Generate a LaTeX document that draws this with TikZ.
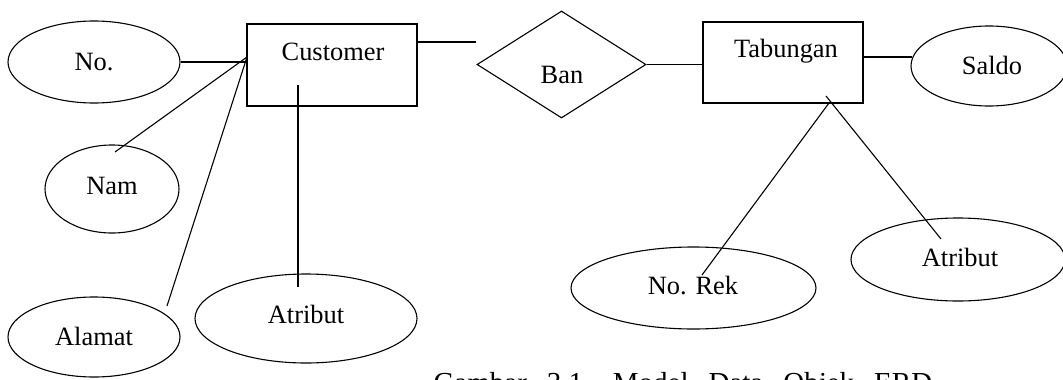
\documentclass[tikz,border=0pt]{standalone}
\usepackage{fontspec}
\setmainfont{Liberation Serif}
\usetikzlibrary{shapes.geometric}
\begin{document}
\begin{tikzpicture}[x=1pt, y=-1pt, line width=1.1pt,
  attr/.style={draw, ellipse, inner sep=0pt},
  ent/.style={draw, rectangle, inner sep=0pt},
  rel/.style={draw, diamond, inner sep=0pt},
  lbl/.style={anchor=base, inner sep=0pt, font=\fontsize{26.4}{30}\selectfont},
  figcaption/.style={anchor=base west, inner sep=0pt, font=\fontsize{29}{34}\selectfont},
  link/.style={line width=1.1pt}]
\useasboundingbox (0,0) rectangle (1063,380);
\clip (0,0) rectangle (1063,380);

% entities and relationship
\node[ent, minimum width=170pt, minimum height=82pt] (cust) at (332,65) {};
\node[ent, minimum width=160pt, minimum height=81pt] (tab) at (783,62.5) {};
\node[rel, minimum width=169pt, minimum height=107pt] (ban) at (561.5,64.5) {};

% attributes
\node[attr, minimum width=172pt, minimum height=82pt] (no) at (94,62) {};
\node[attr, minimum width=134pt, minimum height=88pt] (nam) at (112,189) {};
\node[attr, minimum width=172pt, minimum height=80pt] (alamat) at (94,337) {};
\node[attr, minimum width=222pt, minimum height=89pt] (atr1) at (306,318.5) {};
\node[attr, minimum width=156pt, minimum height=80pt] (saldo) at (989,66) {};
\node[attr, minimum width=245pt, minimum height=82pt] (norek) at (693.5,288) {};
\node[attr, minimum width=214pt, minimum height=83pt] (atr2) at (958,259.5) {};

% labels
\node[lbl] (tNo) at (94,70) {No.};
\node[lbl] (tCust) at (333,60) {Customer};
\node[lbl] (tNam) at (112,194) {Nam};
\node[lbl] (tAlamat) at (94,345) {Alamat};
\node[lbl] (tAtr1) at (306,323) {Atribut};
\node[lbl] (tBan) at (562,83) {Ban};
\node[lbl] (tTab) at (786,57) {Tabungan};
\node[lbl] (tSaldo) at (992,74) {Saldo};
\node[lbl] (tNoRek) at (693,294) {No. Rek};
\node[lbl] (tAtr2) at (960,266) {Atribut};
\node[figcaption] (caption) at (433,392) {\spaceskip=20pt Gambar 3.1. Model Data Objek ERD};

% connector end points
\coordinate (custHub) at (247,57);
\coordinate (namEnd) at (115,152);
\coordinate (alamatEnd) at (167,306);
\coordinate (custIn) at (298,85);
\coordinate (atr1End) at (298,287);
\coordinate (custOut) at (417,42);
\coordinate (custFree) at (476,42);
\coordinate (tabOut) at (863,57);
\coordinate (saldoIn) at (912,57);
\coordinate (tabHubA) at (826,96);
\coordinate (tabHubB) at (829,103);
\coordinate (atr2End) at (941,239);
\coordinate (norekEnd) at (702,275);

% connectors
\draw[link] (no.east) -- (no.east -| cust.west);
\draw[link] (custHub) -- (namEnd);
\draw[link] (custHub) -- (alamatEnd);
\draw[link] (custIn) -- (atr1End);
\draw[link] (custOut) -- (custFree);
\draw[link] (ban.east) -- (ban.east -| tab.west);
\draw[link] (tabOut) -- (saldoIn);
\draw[link] (tabHubA) -- (atr2End);
\draw[link] (tabHubB) -- (norekEnd);
\end{tikzpicture}
\end{document}
